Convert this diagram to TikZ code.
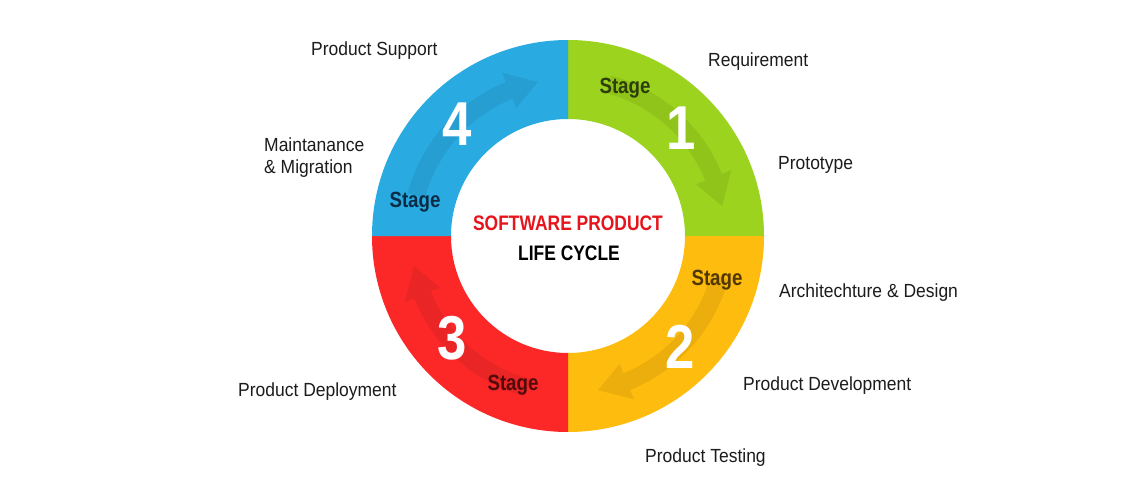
\documentclass[tikz,border=0pt]{standalone}
\usepackage{fontspec}
\setmainfont{Liberation Sans}
\newfontfamily\labelfont[FakeStretch=0.92]{Liberation Sans}
\newfontfamily\stagefont[FakeStretch=0.85]{Liberation Sans}
\newfontfamily\titlefont[FakeStretch=0.83]{Liberation Sans}
\definecolor{sgreen}{RGB}{155,211,30}
\definecolor{syellow}{RGB}{253,188,14}
\definecolor{sred}{RGB}{252,40,40}
\definecolor{sblue}{RGB}{41,171,226}
\definecolor{tgreen}{RGB}{45,62,10}
\definecolor{tyellow}{RGB}{82,56,0}
\definecolor{tred}{RGB}{82,10,10}
\definecolor{tblue}{RGB}{12,44,70}
\definecolor{ttitle}{RGB}{230,20,28}
\definecolor{tlabel}{RGB}{28,28,28}
\tikzset{
  lbl/.style={anchor=base west, inner sep=0pt, text=tlabel, font=\labelfont\fontsize{19}{22}\selectfont},
  stagetxt/.style={inner sep=0pt, font=\stagefont\bfseries\fontsize{22}{24}\selectfont},
  numtxt/.style={inner sep=0pt, text=white, font=\stagefont\bfseries\fontsize{62}{62}\selectfont},
  arrowband/.style={fill=black, fill opacity=0.07},
  titletxt/.style={inner sep=0pt, font=\titlefont\bfseries\fontsize{21}{24}\selectfont}
}
\begin{document}
\begin{tikzpicture}[x=1pt,y=-1pt]
\useasboundingbox (0,0) rectangle (1140,500);
\fill[white] (0,0) rectangle (1140,500);
\coordinate (C) at (568,236);
\begin{scope}[shift={(C)}]
  % ring sectors
  \fill[sgreen] (90:196pt) arc[start angle=90,end angle=0,radius=196pt] -- (0:117pt) arc[start angle=0,end angle=90,radius=117pt] -- cycle;
  \fill[syellow] (0:196pt) arc[start angle=0,end angle=-90,radius=196pt] -- (-90:117pt) arc[start angle=-90,end angle=0,radius=117pt] -- cycle;
  \fill[sred] (-90:196pt) arc[start angle=-90,end angle=-180,radius=196pt] -- (180:117pt) arc[start angle=180,end angle=270,radius=117pt] -- cycle;
  \fill[sblue] (180:196pt) arc[start angle=180,end angle=90,radius=196pt] -- (90:117pt) arc[start angle=90,end angle=180,radius=117pt] -- cycle;
  % arrows
  \fill[arrowband] (75:148pt) arc[start angle=75,end angle=22,radius=148pt] -- (22:138pt) -- (11:157pt) -- (22:176pt) -- (22:166pt) arc[start angle=22,end angle=75,radius=166pt] -- cycle;
  \fill[arrowband] (-15:148pt) arc[start angle=-15,end angle=-68,radius=148pt] -- (-68:138pt) -- (-79:157pt) -- (-68:176pt) -- (-68:166pt) arc[start angle=-68,end angle=-15,radius=166pt] -- cycle;
  \fill[arrowband] (-105:148pt) arc[start angle=-105,end angle=-158,radius=148pt] -- (-158:138pt) -- (-169:157pt) -- (-158:176pt) -- (-158:166pt) arc[start angle=-158,end angle=-105,radius=166pt] -- cycle;
  \fill[arrowband] (165:148pt) arc[start angle=165,end angle=112,radius=148pt] -- (112:138pt) -- (101:157pt) -- (112:176pt) -- (112:166pt) arc[start angle=112,end angle=165,radius=166pt] -- cycle;
\end{scope}
% stage words
\node[stagetxt, text=tgreen] (stage1) at (625,88) {Stage};
\node[stagetxt, text=tyellow] (stage2) at (717,280) {Stage};
\node[stagetxt, text=tred] (stage3) at (513,385) {Stage};
\node[stagetxt, text=tblue] (stage4) at (415,202) {Stage};
% numbers
\node[numtxt] (num1) at (681,128) {1};
\node[numtxt] (num2) at (680,347) {2};
\node[numtxt] (num3) at (452,338) {3};
\node[numtxt] (num4) at (457,124) {4};
% title
\node[titletxt, text=ttitle] (title1) at (568,223) {SOFTWARE PRODUCT};
\node[titletxt, text=black] (title2) at (569,253) {LIFE CYCLE};
% labels
\node[lbl] (support) at (311,56) {Product Support};
\node[lbl] (maint) at (264,151) {Maintanance};
\node[lbl] (migr) at (264,173) {\& Migration};
\node[lbl] (req) at (708,67) {Requirement};
\node[lbl] (proto) at (778,169) {Prototype};
\node[lbl] (arch) at (779,297) {Architechture \& Design};
\node[lbl] (dev) at (743,390) {Product Development};
\node[lbl] (deploy) at (238,396) {Product Deployment};
\node[lbl] (test) at (645,462) {Product Testing};
\end{tikzpicture}
\end{document}
